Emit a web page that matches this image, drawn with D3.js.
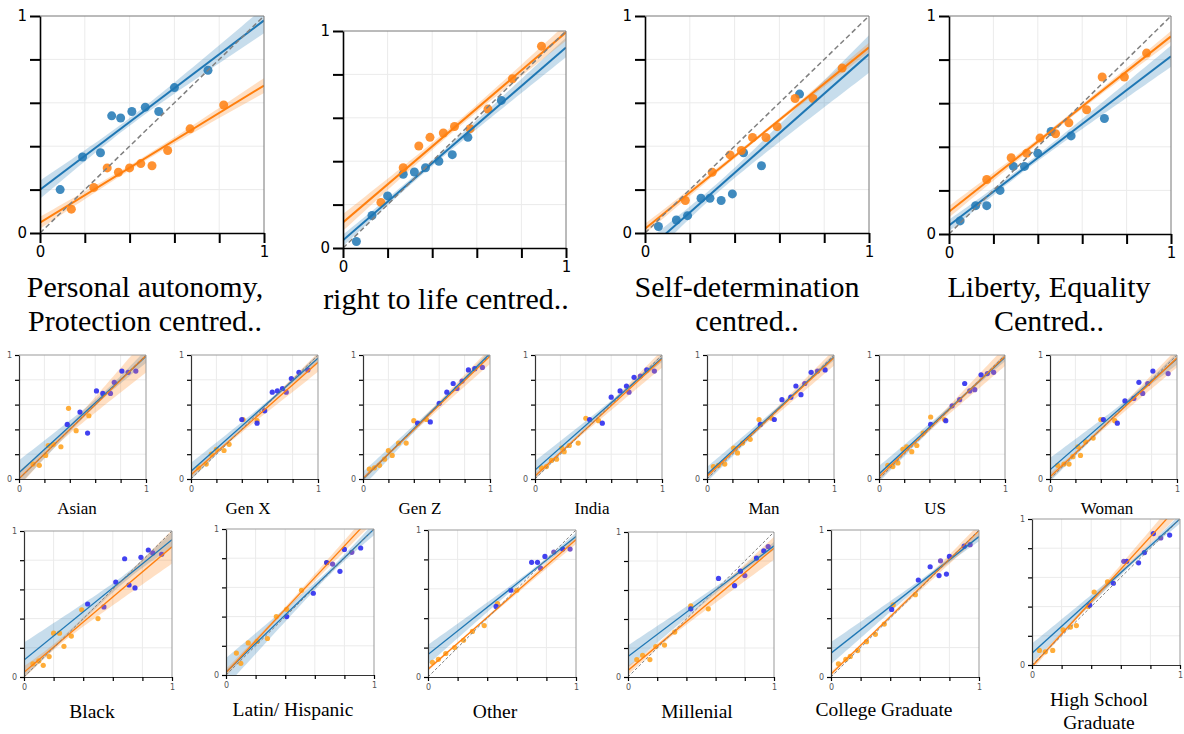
<!DOCTYPE html>
<html>
<head>
<meta charset="utf-8">
<script src="https://cdn.jsdelivr.net/npm/d3@7"></script>
<style>
  body { margin: 0; background: #fff; }
</style>
</head>
<body>
<div id="chart"></div>
<script>
// ---- data: binned points [x, y] ----
const autonomyBlue   = [[0.09,0.20],[0.19,0.35],[0.27,0.37],[0.32,0.54],[0.36,0.53],[0.41,0.56],[0.47,0.58],[0.53,0.56],[0.60,0.67],[0.75,0.75]];
const autonomyOrange = [[0.14,0.11],[0.24,0.21],[0.30,0.30],[0.35,0.28],[0.40,0.30],[0.45,0.32],[0.50,0.31],[0.57,0.38],[0.67,0.48],[0.82,0.59]];
const lifeBlue       = [[0.06,0.03],[0.13,0.15],[0.20,0.24],[0.27,0.34],[0.32,0.35],[0.37,0.37],[0.43,0.40],[0.49,0.43],[0.56,0.51],[0.71,0.68]];
const lifeOrange     = [[0.17,0.21],[0.27,0.37],[0.34,0.47],[0.39,0.51],[0.45,0.53],[0.50,0.56],[0.57,0.55],[0.65,0.64],[0.76,0.78],[0.89,0.93]];
const selfDetBlue    = [[0.06,0.03],[0.14,0.06],[0.19,0.08],[0.25,0.16],[0.29,0.16],[0.34,0.15],[0.39,0.18],[0.44,0.37],[0.52,0.31],[0.69,0.64]];
const selfDetOrange  = [[0.18,0.15],[0.30,0.28],[0.38,0.36],[0.43,0.38],[0.48,0.44],[0.54,0.44],[0.59,0.49],[0.67,0.62],[0.75,0.62],[0.88,0.76]];
const libertyBlue    = [[0.05,0.06],[0.12,0.13],[0.17,0.13],[0.23,0.20],[0.29,0.31],[0.34,0.31],[0.40,0.37],[0.46,0.47],[0.55,0.45],[0.70,0.53]];
const libertyOrange  = [[0.17,0.25],[0.28,0.35],[0.35,0.37],[0.41,0.44],[0.48,0.46],[0.54,0.51],[0.62,0.57],[0.69,0.72],[0.79,0.72],[0.89,0.83]];

const asianOrange  = [[0.11,0.12],[0.16,0.11],[0.21,0.19],[0.23,0.27],[0.27,0.28],[0.33,0.26],[0.39,0.57],[0.45,0.39],[0.55,0.51]];
const asianBlue    = [[0.38,0.44],[0.48,0.54],[0.54,0.37],[0.61,0.71],[0.66,0.69],[0.81,0.87]];
const asianPurple  = [[0.72,0.69],[0.75,0.78],[0.86,0.86],[0.92,0.87]];
const genXOrange   = [[0.06,0.09],[0.12,0.12],[0.16,0.20],[0.20,0.24],[0.26,0.23],[0.30,0.28],[0.41,0.48],[0.52,0.47]];
const genXBlue     = [[0.40,0.48],[0.52,0.45],[0.58,0.55],[0.64,0.70],[0.68,0.71],[0.72,0.73],[0.79,0.81],[0.85,0.86]];
const genXPurple   = [[0.75,0.70],[0.92,0.88]];
const genZOrange   = [[0.05,0.08],[0.09,0.09],[0.13,0.11],[0.17,0.16],[0.20,0.23],[0.23,0.19],[0.28,0.29],[0.34,0.29],[0.40,0.47],[0.50,0.48]];
const genZBlue     = [[0.43,0.45],[0.53,0.46],[0.60,0.61],[0.66,0.70],[0.71,0.77],[0.83,0.88],[0.88,0.89]];
const genZPurple   = [[0.74,0.73],[0.78,0.79],[0.94,0.90]];
const indiaOrange  = [[0.05,0.09],[0.09,0.10],[0.13,0.15],[0.17,0.16],[0.21,0.25],[0.23,0.22],[0.27,0.27],[0.34,0.29],[0.40,0.49],[0.50,0.47]];
const indiaBlue    = [[0.43,0.48],[0.53,0.45],[0.60,0.66],[0.67,0.71],[0.72,0.75],[0.78,0.82],[0.88,0.88]];
const indiaPurple  = [[0.74,0.70],[0.83,0.83],[0.94,0.87]];
const manOrange    = [[0.05,0.10],[0.09,0.11],[0.14,0.12],[0.21,0.25],[0.24,0.21],[0.28,0.29],[0.34,0.32],[0.41,0.48],[0.51,0.49]];
const manBlue      = [[0.42,0.44],[0.53,0.48],[0.59,0.64],[0.66,0.66],[0.70,0.75],[0.74,0.68],[0.82,0.86],[0.93,0.88]];
const manPurple    = [[0.77,0.77],[0.87,0.87]];
const usOrange     = [[0.07,0.11],[0.11,0.10],[0.15,0.13],[0.19,0.24],[0.22,0.26],[0.26,0.22],[0.30,0.27],[0.35,0.37],[0.41,0.50],[0.52,0.48]];
const usBlue       = [[0.41,0.44],[0.53,0.47],[0.68,0.77],[0.81,0.84]];
const usPurple     = [[0.58,0.59],[0.64,0.64],[0.72,0.71],[0.76,0.72],[0.86,0.85],[0.91,0.86]];
const womanOrange  = [[0.06,0.11],[0.11,0.12],[0.15,0.12],[0.18,0.18],[0.22,0.26],[0.24,0.19],[0.28,0.30],[0.34,0.33],[0.40,0.48],[0.51,0.47]];
const womanBlue    = [[0.42,0.48],[0.53,0.45],[0.59,0.63],[0.70,0.78],[0.81,0.87]];
const womanPurple  = [[0.66,0.65],[0.73,0.69],[0.77,0.77],[0.93,0.85]];

const blackOrange   = [[0.06,0.09],[0.10,0.11],[0.13,0.08],[0.17,0.14],[0.20,0.30],[0.24,0.30],[0.27,0.21],[0.32,0.28],[0.39,0.46],[0.50,0.40]];
const blackBlue     = [[0.43,0.50],[0.62,0.65],[0.68,0.81],[0.71,0.63],[0.75,0.61],[0.79,0.82],[0.84,0.87]];
const blackPurple   = [[0.54,0.48],[0.87,0.85],[0.93,0.84]];
const latinOrange   = [[0.07,0.15],[0.10,0.08],[0.15,0.22],[0.21,0.23],[0.28,0.25],[0.34,0.40],[0.41,0.45],[0.51,0.58],[0.68,0.77]];
const latinBlue     = [[0.41,0.40],[0.59,0.56],[0.68,0.77],[0.77,0.71],[0.80,0.86],[0.91,0.87]];
const latinPurple   = [[0.72,0.76],[0.85,0.84]];
const otherOrange   = [[0.03,0.10],[0.07,0.12],[0.12,0.16],[0.18,0.20],[0.24,0.25],[0.30,0.31],[0.38,0.35],[0.47,0.50],[0.60,0.59]];
const otherBlue     = [[0.46,0.48],[0.56,0.59],[0.70,0.78],[0.74,0.78],[0.79,0.82],[0.91,0.87]];
const otherPurple   = [[0.76,0.74],[0.85,0.85],[0.96,0.87]];
const millOrange    = [[0.06,0.12],[0.10,0.15],[0.15,0.12],[0.19,0.21],[0.25,0.22],[0.32,0.31],[0.43,0.49],[0.55,0.47]];
const millBlue      = [[0.43,0.47],[0.62,0.68],[0.73,0.63],[0.77,0.73],[0.88,0.82],[0.93,0.87]];
const millPurple    = [[0.80,0.70],[0.96,0.90]];
const collegeOrange = [[0.05,0.09],[0.10,0.12],[0.13,0.14],[0.18,0.18],[0.24,0.24],[0.30,0.29],[0.36,0.36],[0.42,0.49],[0.57,0.56]];
const collegeBlue   = [[0.41,0.46],[0.59,0.66],[0.67,0.75],[0.73,0.69],[0.78,0.70],[0.80,0.82],[0.90,0.89]];
const collegePurple = [[0.74,0.79],[0.94,0.90]];
const hsOrange      = [[0.05,0.10],[0.09,0.09],[0.14,0.10],[0.21,0.24],[0.26,0.26],[0.30,0.27],[0.38,0.40],[0.42,0.50],[0.51,0.57]];
const hsBlue        = [[0.39,0.41],[0.55,0.56],[0.64,0.71],[0.72,0.70],[0.76,0.77],[0.82,0.90],[0.93,0.89]];
const hsPurple      = [[0.62,0.71],[0.87,0.87]];

const topTitles = [["Personal autonomy,", "Protection centred.."], ["right to life centred.."],
                   ["Self-determination", "centred.."], ["Liberty, Equality", "Centred.."]];
const smallTitles = [["Asian"], ["Gen X"], ["Gen Z"], ["India"], ["Man"], ["US"], ["Woman"],
                     ["Black"], ["Latin/ Hispanic"], ["Other"], ["Millenial"], ["College Graduate"], ["High School", "Graduate"]];
const tickValues = [0, 0.2, 0.4, 0.6, 0.8, 1];

// ---- layout (pixels) ----
const topBoxes = [
  {x: 40,  y: 16, w: 224, h: 217, tx: 145,  ty: [297, 331]},
  {x: 343, y: 31, w: 223, h: 217, tx: 446,  ty: [309]},
  {x: 645, y: 16, w: 224, h: 217, tx: 747,  ty: [297, 331]},
  {x: 949, y: 16, w: 222, h: 218, tx: 1049, ty: [297, 331]}
];
const smallBoxes = [
  {x: 19,   y: 355, w: 127, h: 124, tx: 77,   ty: [514], fs: 17},
  {x: 191,  y: 355, w: 127, h: 124, tx: 248,  ty: [514], fs: 17},
  {x: 363,  y: 355, w: 127, h: 124, tx: 420,  ty: [514], fs: 17},
  {x: 535,  y: 355, w: 127, h: 124, tx: 592,  ty: [514], fs: 17},
  {x: 707,  y: 355, w: 127, h: 124, tx: 764,  ty: [514], fs: 17},
  {x: 879,  y: 355, w: 126, h: 124, tx: 935,  ty: [514], fs: 17},
  {x: 1050, y: 355, w: 127, h: 124, tx: 1107, ty: [514], fs: 17},
  {x: 24,   y: 531, w: 148, h: 146, tx: 92,   ty: [718], fs: 19.5},
  {x: 226,  y: 529, w: 148, h: 146, tx: 293,  ty: [716], fs: 19.5},
  {x: 428,  y: 530, w: 148, h: 147, tx: 495,  ty: [718], fs: 19.5},
  {x: 628,  y: 532, w: 146, h: 145, tx: 697,  ty: [718], fs: 19.5},
  {x: 831,  y: 530, w: 148, h: 147, tx: 884,  ty: [716], fs: 19.5},
  {x: 1032, y: 519, w: 148, h: 146, tx: 1099, ty: [706, 729], fs: 19.5}
];

const topPanels = [
  [autonomyBlue, autonomyOrange], [lifeBlue, lifeOrange],
  [selfDetBlue, selfDetOrange], [libertyBlue, libertyOrange]
];
const smallPanels = [
  [asianOrange, asianBlue, asianPurple], [genXOrange, genXBlue, genXPurple],
  [genZOrange, genZBlue, genZPurple], [indiaOrange, indiaBlue, indiaPurple],
  [manOrange, manBlue, manPurple], [usOrange, usBlue, usPurple],
  [womanOrange, womanBlue, womanPurple], [blackOrange, blackBlue, blackPurple],
  [latinOrange, latinBlue, latinPurple], [otherOrange, otherBlue, otherPurple],
  [millOrange, millBlue, millPurple], [collegeOrange, collegeBlue, collegePurple],
  [hsOrange, hsBlue, hsPurple]
];

const lineBlue = "#1f77b4", lineOrange = "#ff7f0e";

// student t, 97.5% quantile
const tTable = {2: 4.303, 3: 3.182, 4: 2.776, 5: 2.571, 6: 2.447, 7: 2.365, 8: 2.306,
                9: 2.262, 10: 2.228, 11: 2.201, 12: 2.179, 13: 2.160, 14: 2.145};

// least squares fit with a confidence band
function fit(pts, ciScale) {
  const n = pts.length;
  const xm = d3.mean(pts, d => d[0]), ym = d3.mean(pts, d => d[1]);
  const sxx = d3.sum(pts, d => (d[0] - xm) ** 2);
  const sxy = d3.sum(pts, d => (d[0] - xm) * (d[1] - ym));
  const b = sxy / sxx, a = ym - b * xm;
  const s = Math.sqrt(d3.sum(pts, d => (d[1] - a - b * d[0]) ** 2) / (n - 2));
  const t = tTable[n - 2] || 2.1;
  return {
    at: x => a + b * x,
    half: x => ciScale * t * s * Math.sqrt(1 / n + (x - xm) ** 2 / sxx)
  };
}

const svg = d3.select("#chart").append("svg")
  .attr("width", 1184)
  .attr("height", 734)
  .style("background", "#fff");

let clipId = 0;

function drawPanel(box, fits, dots, st) {
  const g = svg.append("g").attr("transform", `translate(${box.x},${box.y})`);
  const x = d3.scaleLinear().domain([0, 1]).range([0, box.w]);
  const y = d3.scaleLinear().domain([0, 1]).range([box.h, 0]);

  const id = "clip" + (clipId++);
  g.append("clipPath").attr("id", id)
    .append("rect").attr("width", box.w).attr("height", box.h);

  // grid
  g.selectAll(".vgrid").data(tickValues.slice(1, -1)).enter().append("line")
    .attr("x1", d => x(d)).attr("x2", d => x(d))
    .attr("y1", 0).attr("y2", box.h)
    .attr("stroke", "#ebebeb").attr("stroke-width", 1);
  g.selectAll(".hgrid").data(tickValues.slice(1, -1)).enter().append("line")
    .attr("y1", d => y(d)).attr("y2", d => y(d))
    .attr("x1", 0).attr("x2", box.w)
    .attr("stroke", "#ebebeb").attr("stroke-width", 1);

  const inner = g.append("g").attr("clip-path", `url(#${id})`);
  const xs = d3.range(0, 1.0001, 0.02);

  // confidence bands
  fits.forEach(f => {
    const area = d3.area()
      .x(d => x(d))
      .y0(d => y(f.model.at(d) - f.model.half(d)))
      .y1(d => y(f.model.at(d) + f.model.half(d)));
    inner.append("path").datum(xs)
      .attr("d", area)
      .attr("fill", f.color)
      .attr("opacity", 0.25);
  });

  // points
  dots.forEach(s => {
    inner.selectAll(null).data(s.pts).enter().append("circle")
      .attr("cx", d => x(d[0]))
      .attr("cy", d => y(d[1]))
      .attr("r", st.r)
      .attr("fill", s.color)
      .attr("opacity", st.dotOpacity);
  });

  // regression lines
  fits.forEach(f => {
    inner.append("line")
      .attr("x1", x(0)).attr("y1", y(f.model.at(0)))
      .attr("x2", x(1)).attr("y2", y(f.model.at(1)))
      .attr("stroke", f.color)
      .attr("stroke-width", st.lineWidth);
  });

  // reference diagonal
  inner.append("line")
    .attr("x1", x(0)).attr("y1", y(0))
    .attr("x2", x(1)).attr("y2", y(1))
    .attr("stroke", "#808080")
    .attr("stroke-width", st.diagWidth)
    .attr("stroke-dasharray", st.dash);

  // top / right frame
  g.append("path")
    .attr("d", `M0,0H${box.w}V${box.h}`)
    .attr("fill", "none")
    .attr("stroke", st.frame)
    .attr("stroke-width", 1);

  const fmt = d => (d === 0 || d === 1) ? d : "";
  const yAxis = g.append("g")
    .call(d3.axisLeft(y).tickValues(tickValues).tickSize(st.tick).tickSizeOuter(0).tickFormat(fmt).tickPadding(st.pad));
  const xAxis = g.append("g")
    .attr("transform", `translate(0,${box.h})`)
    .call(d3.axisBottom(x).tickValues(tickValues).tickSize(st.tick).tickSizeOuter(0).tickFormat(fmt).tickPadding(st.pad));
  [yAxis, xAxis].forEach(ax => {
    ax.select(".domain").attr("stroke", st.spine).attr("stroke-width", st.spineWidth);
    ax.selectAll(".tick line").attr("stroke", "#000").attr("stroke-width", st.tickWidth);
    ax.selectAll(".tick text")
      .attr("fill", st.labelColor)
      .style("font-family", "DejaVu Sans, sans-serif")
      .style("font-size", st.fontSize + "px");
  });
}

function drawTitle(box, lines, size) {
  const t = svg.append("text")
    .attr("text-anchor", "middle")
    .style("font-family", "'Liberation Serif', 'Times New Roman', serif")
    .style("font-size", size + "px")
    .attr("fill", "#000");
  lines.forEach((l, i) => {
    t.append("tspan").attr("x", box.tx).attr("y", box.ty[i]).text(l);
  });
}

const topStyle = {r: 4.5, dotOpacity: 0.85, lineWidth: 2, diagWidth: 1.5, dash: "5,3", tick: 10, tickWidth: 2,
                  pad: 3, fontSize: 15, labelColor: "#000", spine: "#000", spineWidth: 1.6, frame: "#777"};
const smallStyle = {r: 2.6, dotOpacity: 0.9, lineWidth: 1.3, diagWidth: 1, dash: "3,2", tick: 4, tickWidth: 1.2,
                    pad: 3, fontSize: 8, labelColor: "#555", spine: "#333", spineWidth: 1.2, frame: "#999"};

topPanels.forEach((p, i) => {
  const [blue, orange] = p;
  drawPanel(topBoxes[i],
    [{model: fit(blue, 0.45), color: lineBlue}, {model: fit(orange, 0.45), color: lineOrange}],
    [{pts: blue, color: lineBlue}, {pts: orange, color: lineOrange}],
    topStyle);
  drawTitle(topBoxes[i], topTitles[i], 30);
});

smallPanels.forEach((p, i) => {
  const [orange, blue, purple] = p;
  drawPanel(smallBoxes[i],
    [{model: fit(blue.concat(purple), 0.4), color: lineBlue}, {model: fit(orange, 0.4), color: lineOrange}],
    [{pts: orange, color: "#ffa424"}, {pts: blue, color: "#2e2ef0"}, {pts: purple, color: "#6a46c4"}],
    smallStyle);
  drawTitle(smallBoxes[i], smallTitles[i], smallBoxes[i].fs);
});
</script>
</body>
</html>
